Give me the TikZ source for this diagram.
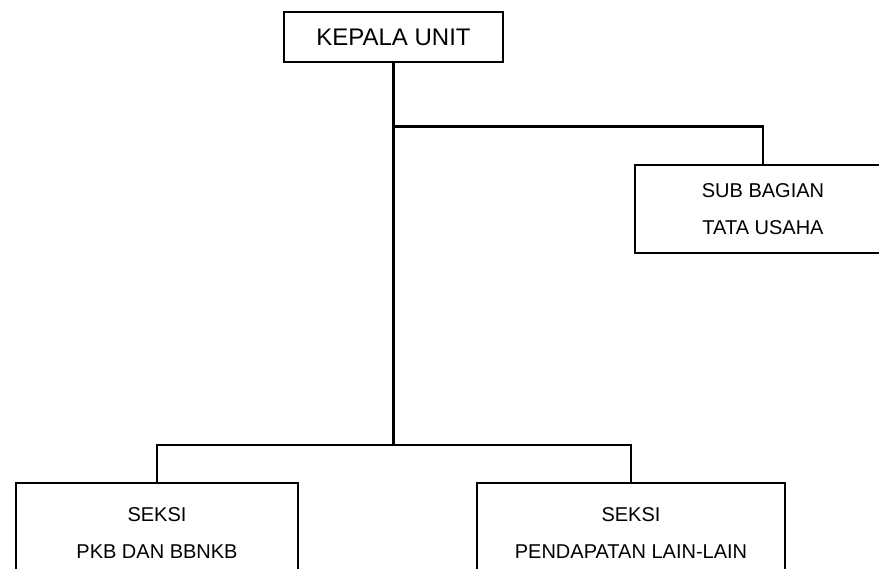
\documentclass[tikz,border=0pt]{standalone}
\usepackage{fontspec}
\setmainfont{Liberation Sans}
\tikzset{
    unit/.style={draw,line width=2.7pt,inner sep=0pt,align=center,
                 font=\fontsize{20}{37}\selectfont},
    link/.style={line width=2.7pt}
}
\begin{document}
\begin{tikzpicture}[x=1pt,y=-1pt]
    \useasboundingbox (0,0) rectangle (879,569);
    \clip (0,0) rectangle (879,569);
        \node[unit,minimum width=219pt,minimum height=50pt,font=\fontsize{24}{28}\selectfont] (kepala) at (393.5,37) {KEPALA UNIT};
        \node[unit,minimum width=256pt,minimum height=88pt] (tu) at (763,209) {SUB BAGIAN\\TATA USAHA};
        \node[unit,minimum width=282pt,minimum height=100pt] (pkb) at (157,533) {SEKSI\\PKB DAN BBNKB};
        \node[unit,minimum width=308pt,minimum height=100pt] (lain) at (631,533) {SEKSI\\PENDAPATAN LAIN-LAIN};
        \coordinate (jt) at (kepala.south |- 0,126.5);
        \coordinate (jb) at (kepala.south |- 0,445);
        \draw[link] (kepala) -- (jb);
        \draw[link] (jt) -| (tu);
        \draw[link] (jb) -| (pkb); \draw[link] (jb) -| (lain);
\end{tikzpicture}
\end{document}
